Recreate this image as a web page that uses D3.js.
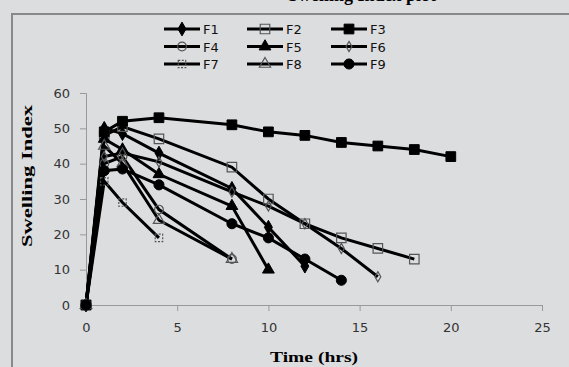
<!DOCTYPE html>
<html lang="en">
<head>
    <meta charset="UTF-8">
    <script src="https://d3js.org/d3.v7.min.js"></script>
    <style>
        body { margin: 0; background: #dcdddf; }
        .tick text { font-family: "DejaVu Sans", sans-serif; font-size: 13px; fill: #333; }
        .axis path, .axis line { stroke: #999; }
        .legend text { font-family: "DejaVu Sans", sans-serif; font-size: 13px; fill: #111; }
        .title { font-family: "Liberation Serif", serif; font-weight: bold; }
    </style>
</head>
<body>
<svg id="chart" width="569" height="367"></svg>
<script>
    // time points (hrs)
    const times = [0, 1, 2, 4, 8, 10, 12, 14, 16, 18, 20];
    const xTicks = [0, 5, 10, 15, 20, 25];
    const yTicks = [0, 10, 20, 30, 40, 50, 60];
    const seriesNames = ["F1", "F2", "F3", "F4", "F5", "F6", "F7", "F8", "F9"];
    // swelling index per formulation
    const F1 = [0, 50, 48.5, 43, 33, 22, 11];
    const F2 = [0, 48, 50.5, 47, 39, 30, 23, 19, 16, 13];
    const F3 = [0, 49, 52, 53, 51, 49, 48, 46, 45, 44, 42];
    const F4 = [0, 40, 42, 27, 13];
    const F5 = [0, 47, 44, 37, 28, 10];
    const F6 = [0, 42, 43, 40.5, 32, 28, 23, 16, 8];
    const F7 = [0, 35, 29, 19];
    const F8 = [0, 45, 40, 24, 13];
    const F9 = [0, 38, 38.5, 34, 23, 19, 13, 7];
    const allValues = [F1, F2, F3, F4, F5, F6, F7, F8, F9];

    const svg = d3.select("#chart");
    const bg = "#dcdddf";

    // outer frame
    svg.append("rect").attr("x", 12).attr("y", 14).attr("width", 600).attr("height", 400)
        .attr("fill", bg).attr("stroke", "#888").attr("stroke-width", 2);

    // title, cut off at the top edge in the original
    svg.append("text").attr("class", "title")
        .attr("x", 288).attr("y", 0.5).attr("font-size", 18)
        .text("Swelling Index plot");

    const x = d3.scaleLinear().domain([0, 25]).range([86, 542]);
    const y = d3.scaleLinear().domain([0, 60]).range([305, 93]);

    svg.append("g").attr("class", "axis")
        .attr("transform", "translate(0,305)")
        .call(d3.axisBottom(x).tickValues(xTicks).tickSize(6).tickPadding(12));
    svg.append("g").attr("class", "axis")
        .attr("transform", "translate(86,0)")
        .call(d3.axisLeft(y).tickValues(yTicks).tickSize(6).tickPadding(10));
    svg.selectAll(".axis .domain").attr("stroke", "#999");

    // axis titles
    svg.append("text").attr("class", "title")
        .attr("x", 314).attr("y", 362).attr("text-anchor", "middle")
        .attr("font-size", 15).attr("textLength", 88).attr("lengthAdjust", "spacingAndGlyphs")
        .text("Time  (hrs)");
    svg.append("text").attr("class", "title")
        .attr("transform", "translate(32,176) rotate(-90)")
        .attr("text-anchor", "middle")
        .attr("font-size", 14).attr("textLength", 142).attr("lengthAdjust", "spacingAndGlyphs")
        .text("Swelling Index");

    // marker styles
    const markers = {
        F1: { type: d3.symbolDiamond, size: 55, filled: true },
        F2: { type: d3.symbolSquare, size: 90, filled: false },
        F3: { type: d3.symbolSquare, size: 95, filled: true },
        F4: { type: d3.symbolCircle, size: 60, filled: false },
        F5: { type: d3.symbolTriangle, size: 60, filled: true },
        F6: { type: d3.symbolDiamond, size: 30, filled: false },
        F7: { type: d3.symbolSquare, size: 55, filled: false, dash: "2,1.5" },
        F8: { type: d3.symbolTriangle, size: 55, filled: false },
        F9: { type: d3.symbolCircle, size: 80, filled: true }
    };

    function drawMarker(g, name, cx, cy) {
        const m = markers[name];
        g.append("path")
            .attr("d", d3.symbol().type(m.type).size(m.size)())
            .attr("transform", "translate(" + cx + "," + cy + ")")
            .attr("fill", m.filled ? "#000" : "none")
            .attr("stroke", m.filled ? "#000" : "#555")
            .attr("stroke-width", m.filled ? 1 : 1.2)
            .attr("stroke-dasharray", m.dash || null);
    }

    const line = d3.line().x(d => x(d[0])).y(d => y(d[1]));
    const series = seriesNames.map((name, i) => ({
        name: name,
        points: allValues[i].map((v, j) => [times[j], v])
    }));

    const plot = svg.append("g");
    series.forEach(s => {
        plot.append("path").datum(s.points)
            .attr("d", line)
            .attr("fill", "none").attr("stroke", "#000").attr("stroke-width", 3);
    });
    series.forEach(s => {
        s.points.forEach(p => drawMarker(plot, s.name, x(p[0]), y(p[1])));
    });

    // legend, 3 columns x 3 rows
    const legend = svg.append("g").attr("class", "legend");
    const colX = [164, 247, 331];
    const rowY = [29, 46.5, 64];
    seriesNames.forEach((name, i) => {
        const lx = colX[i % 3], ly = rowY[Math.floor(i / 3)];
        legend.append("line").attr("x1", lx).attr("x2", lx + 36)
            .attr("y1", ly).attr("y2", ly).attr("stroke", "#000").attr("stroke-width", 3);
        drawMarker(legend, name, lx + 18, ly);
        legend.append("text").attr("x", lx + 39).attr("y", ly + 5).text(name);
    });
</script>
</body>
</html>
